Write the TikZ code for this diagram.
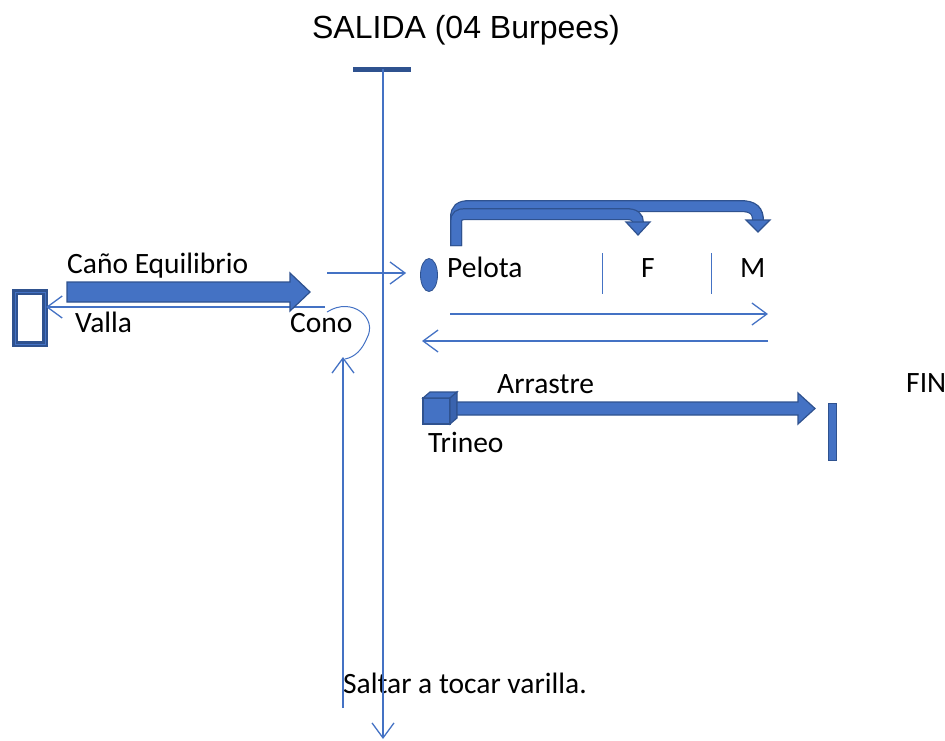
\documentclass[tikz,border=0pt]{standalone}
\usepackage{fontspec}
\setmainfont{Carlito}
\newfontfamily\arialf{Liberation Sans}
\usetikzlibrary{arrows.meta,shapes.geometric}
\definecolor{bfill}{HTML}{4472C4}
\definecolor{bdark}{HTML}{2F528F}
\definecolor{bside}{HTML}{3A63AE}
\begin{document}
\begin{tikzpicture}[x=1pt,y=-1pt,
  thinline/.style={bfill, line width=1.3pt},
  barb/.style={-{Straight Barb[length=15pt,width=22pt]}},
  lbl/.style={font=\fontsize{29.5}{34}\selectfont, inner sep=0pt, text=black},
  blockarr/.style={fill=bfill, draw=bdark, line width=1.2pt, line join=miter},
  bentout/.style={draw=bdark, line width=12pt},
  bentin/.style={draw=bfill, line width=9.5pt},
  sep/.style={bfill, line width=1pt}]
\useasboundingbox (0,0) rectangle (945,740);

% texts
\node[inner sep=0pt, anchor=base, font=\arialf\fontsize{32}{38}\selectfont] (salida) at (466,38) {SALIDA (04 Burpees)};
\node[lbl, anchor=base west] (cano) at (67,273) {Caño Equilibrio};
\node[lbl, anchor=base west] (vallatxt) at (75,332) {Valla};
\node[lbl, anchor=base west] (cono) at (290,332) {Cono};
\node[lbl, anchor=base west] (pelotatxt) at (447,277) {Pelota};
\node[lbl, anchor=base west] (ftxt) at (641,277) {F};
\node[lbl, anchor=base west] (mtxt) at (740,277) {M};
\node[lbl, anchor=base west] (arrastre) at (497,393) {Arrastre};
\node[lbl, anchor=base west] (trineotxt) at (428,452) {Trineo};
\node[lbl, anchor=base west] (fin) at (906,392) {FIN};
\node[lbl, anchor=base west] (saltar) at (343,693) {Saltar a tocar varilla.};

% start bar
\coordinate (barL) at (353,69);
\coordinate (barR) at (411,69);
\draw[draw=bdark, line width=5pt] (barL) -- (barR);

% main vertical line
\coordinate (vtop) at (383,69);
\coordinate (vbot) at (383,739);
\draw[thinline, barb] (vtop) -- (vbot);

% second vertical line going up to cono
\coordinate (v2bot) at (343,708);
\coordinate (v2top) at (343,357);
\draw[thinline, barb] (v2bot) -- (v2top);

% cono loop
\coordinate (conoA) at (327,312);
\coordinate (conoB) at (345,359);
\draw[bfill, line width=1pt] (conoA) .. controls (352,296) and (378,318) .. (367,338) .. controls (362,350) and (355,357) .. (conoB);

% valla
\node[draw=bdark, double=bfill, double distance=1pt, line width=2.2pt, fill=white,
      minimum width=30pt, minimum height=52pt, inner sep=0pt] (valla) at (30,318) {};

% line from cono to valla
\coordinate (conoline) at (325,307);
\draw[thinline, barb] (conoline) -- (valla.east |- conoline);

% Cano equilibrio block arrow
\draw[blockarr] (67,282) -- (290,282) -- (290,273) -- (310,292) -- (290,311) -- (290,302) -- (67,302) -- cycle;

% pelota
\node[ellipse, fill=bfill, draw=bdark, line width=0.8pt, minimum width=17pt, minimum height=33pt, inner sep=0pt] (pelota) at (429,275) {};
\coordinate (topelota) at (327,273);
\draw[thinline, barb] (topelota) -- ([xshift=-14pt]pelota.west |- topelota);

% separators
\draw[sep] (602,253) -- (602,294);
\draw[sep] (711,253) -- (711,294);

% back and forth arrows
\coordinate (fwdA) at (450,314);
\coordinate (fwdB) at (768,314);
\draw[thinline, barb] (fwdA) -- (fwdB);
\coordinate (bckA) at (768,341);
\coordinate (bckB) at (422,341);
\draw[thinline, barb] (bckA) -- (bckB);

% bent arrows
\draw[bentout] (456,246) -- (456,218) .. controls (456,209) and (460,206) .. (470,206) -- (740,206) .. controls (754,206) and (758,211) .. (758,221);
\draw[bentin] (456,245) -- (456,218) .. controls (456,209) and (460,206) .. (470,206) -- (740,206) .. controls (754,206) and (758,211) .. (758,222);
\draw[blockarr] (746,220) -- (770,220) -- (758,232) -- cycle;
\draw[bentout] (456,246) -- (456,222) .. controls (456,216) and (459,214) .. (466,214) -- (625,214) .. controls (635,214) and (638,217) .. (638,223);
\draw[bentin] (456,245) -- (456,222) .. controls (456,216) and (459,214) .. (466,214) -- (625,214) .. controls (635,214) and (638,217) .. (638,224);
\draw[blockarr] (626,222) -- (650,222) -- (638,235) -- cycle;

% trineo cube
\draw[blockarr] (423,398) -- (450,398) -- (450,424) -- (423,424) -- cycle;
\draw[blockarr] (423,398) -- (430,392) -- (457,392) -- (450,398) -- cycle;
\draw[blockarr, fill=bside] (450,398) -- (457,392) -- (457,418) -- (450,424) -- cycle;
\coordinate (trineo) at (457,408.5);

% arrastre block arrow
\draw[blockarr] (trineo |- 0,402) -- (798,402) -- (798,393) -- (815,408.5) -- (798,424) -- (798,415) -- (457,415) -- cycle;

% FIN bar
\node[fill=bfill, draw=bdark, line width=1.2pt, minimum width=8pt, minimum height=57pt, inner sep=0pt] (finbar) at (832.5,432) {};
\end{tikzpicture}
\end{document}
